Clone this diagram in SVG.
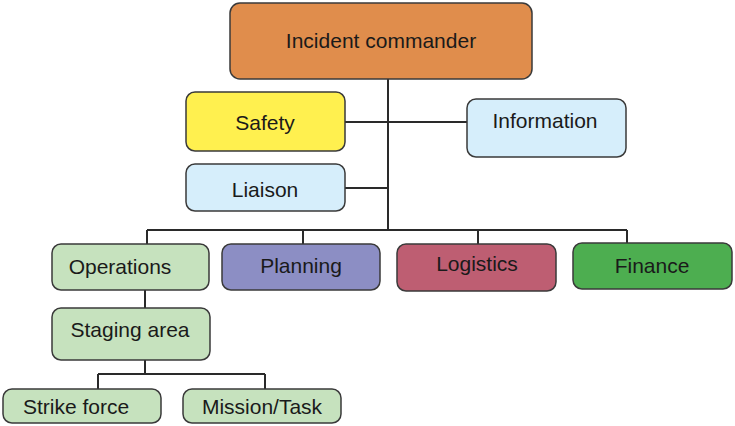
<svg xmlns="http://www.w3.org/2000/svg" width="735" height="426" viewBox="0 0 735 426">
<style>
.box{stroke:#3a3a3a;stroke-width:1.5}
.t{font-family:"Liberation Sans","DejaVu Sans",sans-serif;font-size:21px;fill:#1a1a1a;text-anchor:middle;dominant-baseline:central}
.c{stroke:#2a2a2a;stroke-width:2;fill:none}
</style>
<rect width="735" height="426" fill="#fff"/>
<g id="connectors">
<path class="c" d="M388 79V230M345 122H467M345 188H388M147 230H627M147 230V244M303 230V244M478 230V244M627 230V243M145 290V308M145 360V374M98 374H265M98 374V389M265 374V389"/>
</g>
<g id="commander"><rect class="box" x="230" y="3" width="302" height="76" rx="10" fill="#E08D4C"/><text class="t" x="381" y="40">Incident commander</text></g>
<g id="safety"><rect class="box" x="186" y="92" width="159" height="59" rx="9" fill="#FFF04F"/><text class="t" x="265" y="122">Safety</text></g>
<g id="information"><rect class="box" x="467" y="99" width="159" height="58" rx="9" fill="#D6EEFB"/><text class="t" x="545" y="120">Information</text></g>
<g id="liaison"><rect class="box" x="186" y="164" width="159" height="47" rx="9" fill="#D6EEFB"/><text class="t" x="265" y="189">Liaison</text></g>
<g id="operations"><rect class="box" x="52" y="244" width="157" height="46" rx="9" fill="#C6E2BE"/><text class="t" x="120" y="266">Operations</text></g>
<g id="planning"><rect class="box" x="222" y="244" width="158" height="46" rx="9" fill="#8C8EC4"/><text class="t" x="301" y="265">Planning</text></g>
<g id="logistics"><rect class="box" x="397" y="244" width="159" height="47" rx="9" fill="#BE5E72"/><text class="t" x="477" y="263">Logistics</text></g>
<g id="finance"><rect class="box" x="573" y="243" width="159" height="46" rx="9" fill="#4DAE50"/><text class="t" x="652" y="265">Finance</text></g>
<g id="staging"><rect class="box" x="52" y="308" width="158" height="52" rx="9" fill="#C6E2BE"/><text class="t" x="130" y="329">Staging area</text></g>
<g id="strike"><rect class="box" x="3" y="389" width="158" height="34" rx="9" fill="#C6E2BE"/><text class="t" x="76" y="406">Strike force</text></g>
<g id="mission"><rect class="box" x="183" y="389" width="158" height="34" rx="9" fill="#C6E2BE"/><text class="t" x="262" y="406">Mission/Task</text></g>
</svg>
